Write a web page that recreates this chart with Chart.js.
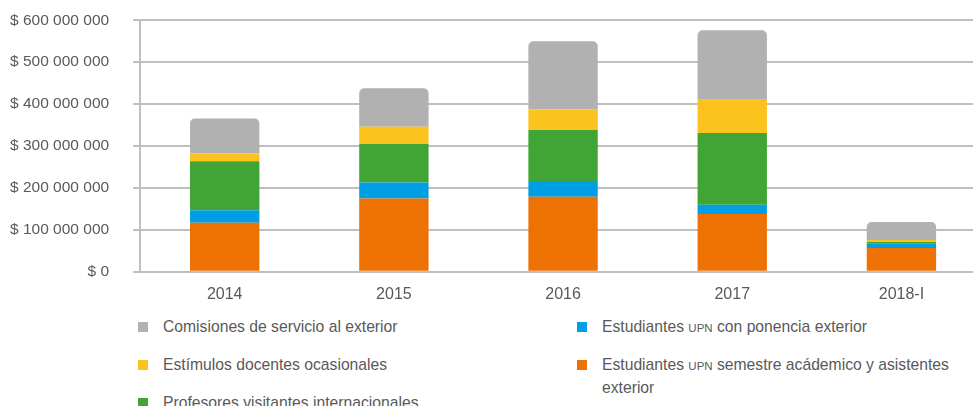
<!DOCTYPE html>
<html>
<head>
    <title>Movilidad UPN</title>
    <script src="https://cdn.jsdelivr.net/npm/chart.js"></script>
    <style>
        body {
            margin: 0;
            background: #fff;
            overflow: hidden;
            font-family: 'Liberation Sans', Arial, sans-serif;
            color: #595959;
        }
        .wrap {
            position: relative;
            width: 973px;
            height: 406px;
            overflow: hidden;
        }
        .chart-box {
            position: absolute;
            left: -22px;
            top: -13px;
            width: 1012px;
            height: 322px;
        }
        .legend-col {
            position: absolute;
            top: 315px;
        }
        .legend-item {
            position: relative;
            padding-left: 25px;
            font-size: 15.7px;
            line-height: 23px;
            margin-bottom: 15px;
        }
        .legend-item .box {
            position: absolute;
            left: 0;
            top: 7px;
            width: 10px;
            height: 10px;
        }
        .legend-item .sc {
            font-size: 11.5px;
            line-height: 1;
        }
    </style>
</head>
<body>
<div class="wrap">
    <div class="chart-box"><canvas id="chart"></canvas></div>
    <div class="legend-col" id="legLeft" style="left:138px; width:420px;"></div>
    <div class="legend-col" id="legRight" style="left:577px; width:372px;"></div>
</div>

<script>
    const categories = ['2014', '2015', '2016', '2017', '2018-I'];

    // valores en millones de pesos
    const semestreAcademico = [117, 175, 179, 138, 57];
    const ponenciaExterior = [30, 38, 35, 22, 11];
    const profesoresVisitantes = [117, 92, 124, 171, 3];
    const estimulosDocentes = [19, 41, 50, 81, 5];
    const comisionesServicio = [83, 92, 162, 164, 43];

    const yTicks = [0, 100, 200, 300, 400, 500, 600];

    const series = [
        { key: 'semestre', label: 'Estudiantes UPN semestre acádemico y asistentes exterior', data: semestreAcademico, color: '#EE7203' },
        { key: 'ponencia', label: 'Estudiantes UPN con ponencia exterior', data: ponenciaExterior, color: '#009FE3' },
        { key: 'profes', label: 'Profesores visitantes internacionales', data: profesoresVisitantes, color: '#41A535' },
        { key: 'estimulos', label: 'Estímulos docentes ocasionales', data: estimulosDocentes, color: '#FCC21E' },
        { key: 'comisiones', label: 'Comisiones de servicio al exterior', data: comisionesServicio, color: '#B1B1B1' }
    ];

    const legendLeft = ['comisiones', 'estimulos', 'profes'];
    const legendRight = ['ponencia', 'semestre'];

    function money(v) {
        return '$ ' + String(v).replace(/\B(?=(\d{3})+(?!\d))/g, ' ');
    }

    const FONT = "'Liberation Sans', Arial, sans-serif";

    const datasets = series.map((s, i) => ({
        label: s.label,
        data: s.data.map(v => v * 1000000),
        backgroundColor: s.color,
        borderWidth: 0,
        borderSkipped: 'start',
        borderRadius: i === series.length - 1 ? { topLeft: 5, topRight: 5, bottomLeft: 0, bottomRight: 0 } : 0,
        categoryPercentage: 1,
        barPercentage: 0.41
    }));

    new Chart(document.getElementById('chart'), {
        type: 'bar',
        data: { labels: categories, datasets: datasets },
        options: {
            responsive: true,
            maintainAspectRatio: false,
            animation: false,
            layout: { padding: { left: 8, right: 4, top: 0, bottom: 0 } },
            plugins: {
                legend: { display: false },
                tooltip: { enabled: false }
            },
            scales: {
                x: {
                    stacked: true,
                    grid: { display: false },
                    border: { display: false },
                    ticks: {
                        color: '#595959',
                        font: { family: FONT, size: 16 },
                        padding: 5
                    }
                },
                y: {
                    stacked: true,
                    min: 0,
                    max: 600000000,
                    afterBuildTicks: axis => {
                        axis.ticks = yTicks.map(v => ({ value: v * 1000000 }));
                    },
                    grid: {
                        color: '#BFBFBF',
                        lineWidth: 2,
                        tickLength: 7
                    },
                    border: { display: true, color: '#BFBFBF', width: 2 },
                    ticks: {
                        color: '#595959',
                        font: { family: FONT, size: 15.5 },
                        padding: 24,
                        callback: v => money(v)
                    }
                }
            }
        }
    });

    function buildLegend(id, keys) {
        const col = document.getElementById(id);
        keys.forEach(k => {
            const s = series.find(x => x.key === k);
            const item = document.createElement('div');
            item.className = 'legend-item';
            const box = document.createElement('span');
            box.className = 'box';
            box.style.background = s.color;
            item.appendChild(box);
            s.label.split(/(UPN)/).forEach(part => {
                if (part === 'UPN') {
                    const sc = document.createElement('span');
                    sc.className = 'sc';
                    sc.textContent = part;
                    item.appendChild(sc);
                } else {
                    item.appendChild(document.createTextNode(part));
                }
            });
            col.appendChild(item);
        });
    }
    buildLegend('legLeft', legendLeft);
    buildLegend('legRight', legendRight);
</script>
</body>
</html>
